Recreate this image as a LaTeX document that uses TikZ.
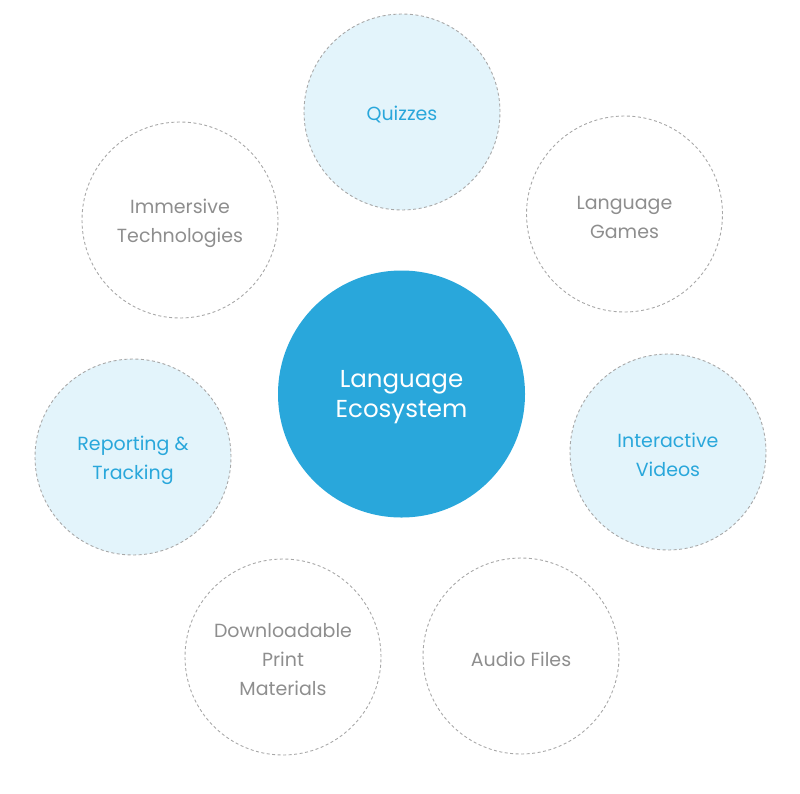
\documentclass[tikz,border=0pt]{standalone}
\usepackage{fontspec}
\setmainfont{Poppins}
\definecolor{ecoblue}{HTML}{29A7DB}
\definecolor{palefill}{HTML}{E3F4FB}
\definecolor{ringgrey}{HTML}{A8A8A8}
\definecolor{textgrey}{HTML}{8E8E8E}
\tikzset{
	ring/.style={circle, draw=ringgrey, line width=0.9pt, dash pattern=on 3pt off 2.5pt,
		minimum size=196pt, inner sep=0pt},
	ringtext/.style={align=center, font=\fontsize{19}{29}\selectfont, yshift=-3pt},
	plainring/.style={ring, label={[ringtext, text=textgrey]center:#1}},
	bluering/.style={ring, fill=palefill, label={[ringtext, text=ecoblue]center:#1}},
	hub/.style={circle, fill=ecoblue, minimum size=247pt, inner sep=0pt,
		label={[align=center, text=white, font=\fontsize{24.5}{30}\selectfont, yshift=-3pt]center:#1}}
}
\begin{document}
\begin{tikzpicture}[x=1pt,y=-1pt]
		\useasboundingbox (0,0) rectangle (800,793);
		%centre
		\node [hub={Language\\Ecosystem}] (eco) at (401.5,394) {};
		%top row
		\node [bluering={Quizzes}] (quiz) at (402,112) {};
		\node [plainring={Immersive\\Technologies}] (immersive) at (180,220) {};
		\node [plainring={Language\\Games}] (games) at (624.5,214) {};
		%middle row
		\node [bluering={Reporting \&\\Tracking}] (report) at (133,457) {};
		\node [bluering={Interactive\\Videos}] (videos) at (668,452) {};
		%bottom row
		\node [plainring={Downloadable\\Print\\Materials}] (print) at (283,657) {};
		\node [plainring={Audio Files}] (audio) at (521,656) {};
	\end{tikzpicture}
\end{document}
